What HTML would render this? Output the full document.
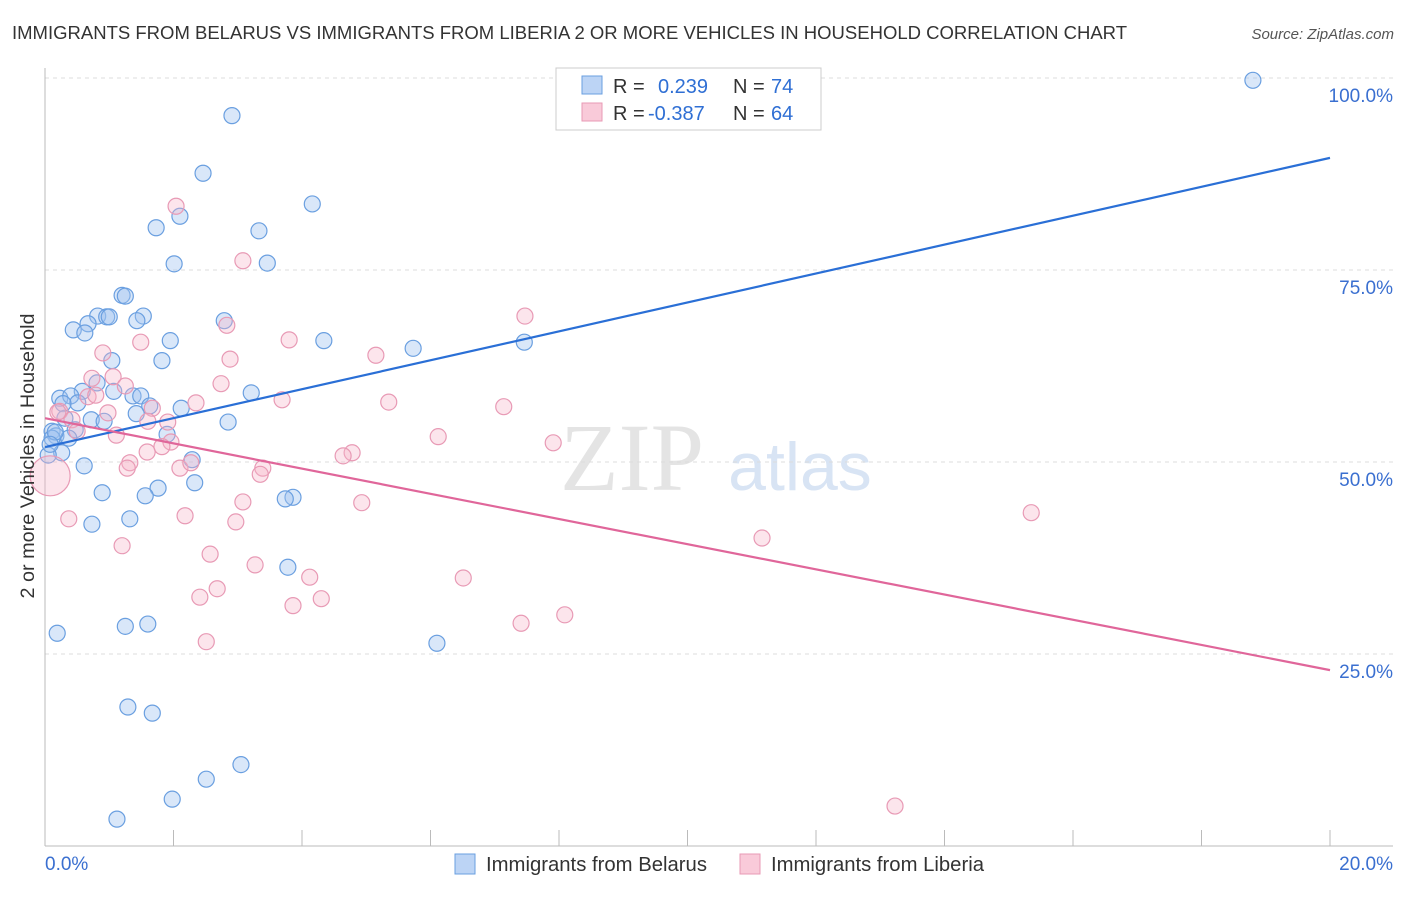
<!DOCTYPE html>
<html><head><meta charset="utf-8"><style>
body{margin:0;background:#fff;font-family:"Liberation Sans",sans-serif;}
svg text{font-family:"Liberation Sans",sans-serif;}
</style></head><body>
<svg id="chart" width="1406" height="892" viewBox="0 0 1406 892">
<text x="12" y="39" font-size="18" fill="#333" textLength="1115" lengthAdjust="spacingAndGlyphs">IMMIGRANTS FROM BELARUS VS IMMIGRANTS FROM LIBERIA 2 OR MORE VEHICLES IN HOUSEHOLD CORRELATION CHART</text>
<text x="1394" y="39" font-size="15" fill="#555" font-style="italic" text-anchor="end">Source: ZipAtlas.com</text>
<g>
<text x="632" y="490" font-size="96" fill="#e4e4e4" text-anchor="middle" font-family="Liberation Serif" style="font-family:'Liberation Serif',serif">ZIP</text>
<text x="800" y="490" font-size="68" fill="#d8e4f4" text-anchor="middle">atlas</text>
</g>
<g id="grid"></g>
<g id="axes"></g>
<g id="marks"></g>
<text transform="translate(34,456) rotate(-90)" font-size="19" fill="#333" text-anchor="middle" textLength="285" lengthAdjust="spacingAndGlyphs">2 or more Vehicles in Household</text>
<g>
<rect x="556" y="68" width="265" height="62" fill="#fff" stroke="#ccc"/>
<rect x="582" y="76" width="20" height="18" fill="#bcd4f5" stroke="#6a9fe0"/>
<rect x="582" y="103" width="20" height="18" fill="#f9cad9" stroke="#e89ab5"/>
<text x="613" y="93" font-size="20" fill="#333">R = </text><text x="658" y="93" font-size="20" fill="#2f6fd4">0.239</text>
<text x="733" y="93" font-size="20" fill="#333">N = </text><text x="771" y="93" font-size="20" fill="#2f6fd4">74</text>
<text x="613" y="120" font-size="20" fill="#333">R = </text><text x="648" y="120" font-size="20" fill="#2f6fd4">-0.387</text>
<text x="733" y="120" font-size="20" fill="#333">N = </text><text x="771" y="120" font-size="20" fill="#2f6fd4">64</text>
</g>
<g>
<rect x="455" y="854" width="20" height="20" fill="#bcd4f5" stroke="#6a9fe0"/>
<text x="486" y="871" font-size="20" fill="#333" textLength="221" lengthAdjust="spacingAndGlyphs">Immigrants from Belarus</text>
<rect x="740" y="854" width="20" height="20" fill="#f9cad9" stroke="#e89ab5"/>
<text x="771" y="871" font-size="20" fill="#333" textLength="213" lengthAdjust="spacingAndGlyphs">Immigrants from Liberia</text>
</g>
</svg>
<script>
const blueX=[18.8,2.91,2.46,4.16,2.1,1.73,3.33,2.01,3.46,1.2,1.25,1.53,0.82,0.96,1.0,0.67,0.44,0.62,1.43,2.79,1.95,4.34,5.73,7.46,1.04,1.82,0.81,0.58,1.07,0.23,0.4,1.37,1.49,3.21,0.51,0.28,1.63,2.12,0.31,0.72,0.92,1.42,2.85,0.11,0.47,0.17,0.37,1.9,2.29,0.61,0.26,0.05,2.33,0.89,1.76,1.56,3.86,3.74,0.73,1.32,3.78,0.19,1.25,1.6,6.1,1.29,1.67,3.05,2.51,1.98,1.12,0.11,0.16,0.08];
const blueY=[99.7,95.1,87.6,83.6,82.0,80.5,80.1,75.8,75.9,71.7,71.6,69.0,69.0,68.9,68.9,68.0,67.2,66.8,68.4,68.4,65.8,65.8,64.8,65.6,63.2,63.2,60.3,59.2,59.2,58.3,58.6,58.6,58.6,59.0,57.7,57.6,57.3,57.0,55.7,55.5,55.3,56.3,55.2,54.0,54.2,53.4,53.1,53.6,50.3,49.5,51.2,50.9,47.3,46.0,46.6,45.6,45.4,45.2,41.9,42.6,36.3,27.7,28.6,28.9,26.4,18.1,17.3,10.6,8.7,6.1,3.5,53.1,53.9,52.3];
const pinkX=[2.04,3.08,7.47,2.83,3.8,1.49,0.9,2.88,5.15,1.06,0.73,2.74,3.69,5.35,7.14,1.25,0.67,0.23,0.98,1.67,2.35,0.42,1.11,1.91,1.6,0.5,6.12,7.91,1.96,1.82,4.78,4.64,1.59,1.32,1.28,2.1,2.27,3.39,3.35,0.08,0.37,3.08,4.93,2.18,2.97,1.2,2.57,11.16,15.35,3.27,4.12,6.51,2.68,2.41,4.3,3.86,8.09,7.41,2.51,13.23,0.2,0.79];
const pinkY=[83.3,76.2,69.0,67.8,65.9,65.6,64.2,63.4,63.9,61.1,60.9,60.2,58.1,57.8,57.2,59.9,58.5,56.6,56.4,57.0,57.7,55.5,53.5,55.2,55.3,54.0,53.3,52.5,52.6,52.0,51.2,50.8,51.3,49.9,49.2,49.2,49.9,49.2,48.4,48.2,42.6,44.8,44.7,43.0,42.2,39.1,38.0,40.1,43.4,36.6,35.0,34.9,33.5,32.4,32.2,31.3,30.1,29.0,26.6,5.2,56.5,58.7];
const pinkBig=[39];
const blueTrend=[51.95,89.6];
const pinkTrend=[55.7,22.9];
const yTicks=[25,50,75,100];
const yTickLabels=["25.0%","50.0%","75.0%","100.0%"];
const xTicks=[0,2,4,6,8,10,12,14,16,18,20];
const NS="http://www.w3.org/2000/svg";
const xs=v=>45+v*64.25;
const ys=v=>846-v*7.68;
function mk(tag,attrs,parent){const e=document.createElementNS(NS,tag);for(const k in attrs)e.setAttribute(k,attrs[k]);document.getElementById(parent).appendChild(e);return e;}
yTicks.forEach((t,i)=>{
 const g=mk('line',{x1:45,x2:1393,y1:ys(t),y2:ys(t),stroke:'#ddd','stroke-dasharray':'4,4'},'grid');
 
 
 const l=mk('text',{x:1393,y:ys(t)+24,'font-size':19,fill:'#3a6fd0','text-anchor':'end'},'grid');
 l.textContent=yTickLabels[i];
 
 
});
const ax=mk('line',{x1:45,x2:45,y1:68,y2:846,stroke:'#bbb'},'axes');


const bx=mk('line',{x1:45,x2:1393,y1:846,y2:846,stroke:'#bbb'},'axes');


xTicks.forEach(t=>{
 const k=mk('line',{x1:xs(t),x2:xs(t),y1:846,y2:830,stroke:'#bbb'},'axes');
 
 
});
const xl0=mk('text',{x:45,y:870,'font-size':19,fill:'#3a6fd0'},'axes');xl0.textContent='0.0%';


const xl1=mk('text',{x:1393,y:870,'font-size':19,fill:'#3a6fd0','text-anchor':'end'},'axes');xl1.textContent='20.0%';


blueX.forEach((x,i)=>{
 const c=mk('circle',{cx:xs(x),cy:ys(blueY[i]),r:8,fill:'rgba(160,195,240,0.4)',stroke:'#6a9fe0','stroke-width':1.2},'marks');
 
 
});
pinkX.forEach((x,i)=>{
 const r=pinkBig.includes(i)?20:8;
 const c=mk('circle',{cx:xs(x),cy:ys(pinkY[i]),r:r,fill:'rgba(245,180,200,0.35)',stroke:'#e89ab5','stroke-width':1.2},'marks');
 
 
});
const bl=mk('line',{x1:xs(0),y1:ys(blueTrend[0]),x2:xs(20),y2:ys(blueTrend[1]),stroke:'#2a6fd6','stroke-width':2.2},'marks');


const pl=mk('line',{x1:xs(0),y1:ys(pinkTrend[0]),x2:xs(20),y2:ys(pinkTrend[1]),stroke:'#e0669a','stroke-width':2.2},'marks');


</script>
</body></html>
